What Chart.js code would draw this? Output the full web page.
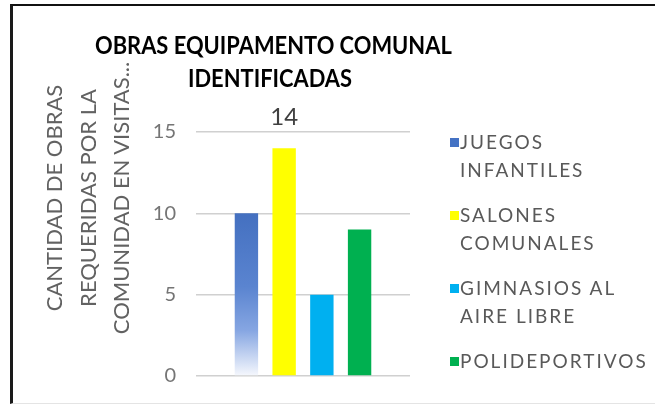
<!DOCTYPE html>
<html>
<head>
<meta charset="utf-8">
<script src="https://cdn.jsdelivr.net/npm/chart.js@4"></script>
<style>
  html, body { margin: 0; padding: 0; background: #fff; }
  body { width: 655px; height: 404px; position: relative; overflow: hidden; font-family: Lato, 'Open Sans', sans-serif; }
  #frame { position: absolute; left: 10px; top: 4px; width: 650px; height: 397px; border-left: 3px solid #1a1a1a; border-top: 2px solid #111; border-bottom: 1px solid #e4e4e4; }
  #wrap { position: absolute; left: 12px; top: 6px; width: 520px; height: 402px; }
  #title { position: absolute; left: 70px; top: 28px; width: 400px; text-align: center; font-weight: bold; font-size: 25px; line-height: 33px; color: #000; white-space: nowrap; transform: scaleX(0.875); }
  #ytitle { position: absolute; left: -73px; top: 148px; width: 320px; height: 100px; line-height: 33.5px; text-align: center; font-size: 22px; color: #626262; white-space: nowrap; transform: rotate(-90deg); }
  #legend { position: absolute; left: 450px; top: 128px; width: 205px; color: #595959; font-size: 19px; letter-spacing: 2px; }
  .item { position: relative; padding-left: 10px; line-height: 28px; height: 73px; }
  .item .box { position: absolute; left: 0; top: 10px; width: 9px; height: 9px; }
</style>
</head>
<body>
<div id="frame"></div>
<div id="wrap"><canvas id="chart"></canvas></div>
<div id="title"></div>
<div id="ytitle"></div>
<div id="legend"></div>
<script>
// Datos
const seriesNames = ['JUEGOS INFANTILES', 'SALONES COMUNALES', 'GIMNASIOS AL AIRE LIBRE', 'POLIDEPORTIVOS'];
const legendLines = [['JUEGOS', 'INFANTILES'], ['SALONES', 'COMUNALES'], ['GIMNASIOS AL', 'AIRE LIBRE'], ['POLIDEPORTIVOS']];
const values = [10, 14, 5, 9];
const showValue = [false, true, false, false];
const seriesColors = ['#4472C4', '#FFFF00', '#00B0F0', '#00B050'];
const titleLines = ['OBRAS EQUIPAMENTO COMUNAL', 'IDENTIFICADAS'];
const yTitleLines = ['CANTIDAD DE OBRAS', 'REQUERIDAS POR LA', 'COMUNIDAD EN VISITAS...'];
const yTicks = [0, 5, 10, 15];

// Barra azul con degradado hacia blanco
function blueFade(ctx) {
    const chart = ctx.chart;
    const y = chart.scales && chart.scales.y;
    if (!chart.chartArea || !y) return seriesColors[0];
    const top = y.getPixelForValue(values[0]);
    const bottom = y.getPixelForValue(0);
    const g = chart.ctx.createLinearGradient(0, top, 0, bottom);
    g.addColorStop(0, '#4470c0');
    g.addColorStop(0.45, '#5a84d0');
    g.addColorStop(0.72, '#86a6e2');
    g.addColorStop(1, '#f6f8fd');
    return g;
}

// Etiqueta de valor encima del área
const valueLabels = {
    id: 'valueLabels',
    afterDatasetsDraw(chart) {
        const c = chart.ctx;
        c.save();
        c.font = '24px Lato';
        c.fillStyle = '#404040';
        c.textAlign = 'center';
        c.textBaseline = 'middle';
        chart.data.datasets.forEach((ds, i) => {
            if (!showValue[i]) return;
            const bar = chart.getDatasetMeta(i).data[0];
            c.fillText(String(ds.data[0]), bar.x, chart.chartArea.top - 15);
        });
        c.restore();
    }
};

const datasets = seriesNames.map((name, i) => ({
    label: name,
    data: [values[i]],
    backgroundColor: i === 0 ? blueFade : seriesColors[i],
    borderWidth: 0,
    categoryPercentage: 0.705,
    barPercentage: 0.62
}));

new Chart(document.getElementById('chart'), {
    type: 'bar',
    data: { labels: [''], datasets },
    plugins: [valueLabels],
    options: {
        responsive: true,
        maintainAspectRatio: false,
        animation: false,
        layout: { padding: { left: 0, right: 122, top: 126, bottom: 0 } },
        plugins: {
            legend: { display: false },
            tooltip: { enabled: false },
            title: { display: false }
        },
        scales: {
            x: { display: false },
            y: {
                min: 0,
                max: 15,
                afterBuildTicks: (axis) => { axis.ticks = yTicks.map(v => ({ value: v })); },
                afterFit: (axis) => { axis.width = 184; },
                ticks: { color: '#757575', font: { family: 'Lato', size: 20 }, padding: 20 },
                grid: { color: '#d0d0d0', lineWidth: 1.5, drawTicks: false },
                border: { display: false }
            }
        }
    }
});

// Textos
const title = document.getElementById('title');
titleLines.forEach(t => {
    const d = document.createElement('div');
    d.textContent = t;
    title.appendChild(d);
});
const ytitle = document.getElementById('ytitle');
yTitleLines.forEach(t => {
    const d = document.createElement('div');
    d.textContent = t;
    ytitle.appendChild(d);
});

// Leyenda
const legend = document.getElementById('legend');
legendLines.forEach((lines, i) => {
    const item = document.createElement('div');
    item.className = 'item';
    const box = document.createElement('span');
    box.className = 'box';
    box.style.background = seriesColors[i];
    item.appendChild(box);
    lines.forEach(t => {
        const d = document.createElement('div');
        d.textContent = t;
        item.appendChild(d);
    });
    legend.appendChild(item);
});
</script>
</body>
</html>
